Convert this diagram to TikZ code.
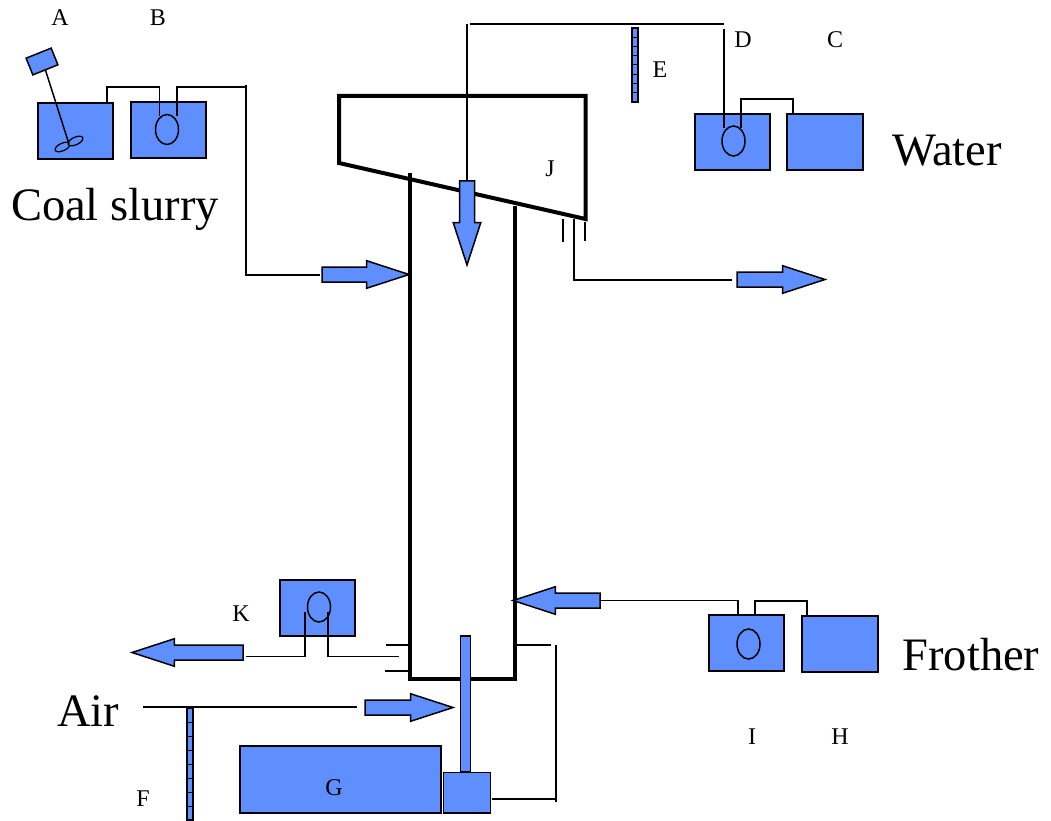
\documentclass[tikz,border=0pt]{standalone}
\usepackage{fontspec}
\setmainfont{Liberation Serif}
\usetikzlibrary{shapes.arrows,shapes.geometric}
\definecolor{fillblue}{HTML}{5F8FFF}
\tikzset{
  tank/.style={draw=black,fill=fillblue,line width=1.9pt,rectangle,inner sep=0pt,outer sep=0pt,minimum width=#1},
  tank/.default=75pt,
  pump/.style={draw=black,fill=fillblue,line width=1.5pt,ellipse,inner sep=0pt,outer sep=0pt,minimum width=23pt,minimum height=30pt},
  pipe/.style={draw=black,line width=1.5pt,line join=miter},
  wall/.style={draw=black,line width=4pt,line join=miter,line cap=rect},
  flow/.style={draw=black,fill=fillblue,line width=1.5pt,single arrow,inner xsep=0pt,inner ysep=6.75pt,outer sep=0pt,
    minimum height=#1,single arrow head extend=6.25pt,single arrow head indent=0pt,
    single arrow tip angle=36,anchor=tail},
  tag/.style={font=\fontsize{24}{26}\selectfont,inner sep=0pt},
  title/.style={font=\fontsize{46.5}{50}\selectfont,inner sep=0pt},
  strip/.style={draw=black,fill=fillblue,line width=1.4pt,rectangle,inner sep=0pt,outer sep=0pt,minimum width=6pt},
  blade/.style={draw=black,fill=fillblue,line width=1.3pt,ellipse,inner sep=0pt,outer sep=0pt,minimum width=16pt,minimum height=7.5pt,rotate=25},
}
\begin{document}
\begin{tikzpicture}[x=1pt,y=-1pt]
\useasboundingbox (0,0) rectangle (1051,821);
% vessel
\coordinate (launderTL) at (339,96);
\coordinate (launderTR) at (585.5,96);
\coordinate (launderBR) at (585.5,219);
\coordinate (launderBL) at (339,163);
\draw[wall] (launderBL) -- (launderTL) -- (launderTR) -- (launderBR) -- cycle;
\coordinate (colTL) at (410,175);
\coordinate (colBL) at (410,678.5);
\coordinate (colBR) at (515,678.5);
\coordinate (colTR) at (515,208);
\draw[wall] (colTL) -- (colBL) -- (colBR) -- (colTR);
% tanks
\node[tank,minimum height=56pt] (tankA) at (75.4,130.6) {};
\node[tank,minimum height=56pt] (tankB) at (168.5,130) {};
\node[tank,minimum height=56pt] (tankD) at (732.4,141.6) {};
\node[tank=76pt,minimum height=56pt] (tankC) at (825.25,142) {};
\node[tank,minimum height=56.5pt] (tankK) at (317.9,607.9) {};
\node[tank,minimum height=56pt] (tankI) at (746.5,643) {};
\node[tank=76pt,minimum height=56pt] (tankH) at (840,644) {};
\node[tank=201pt,minimum height=67pt] (tankG) at (340.5,779.5) {};
\node[pump] (pumpB) at (167,129.5) {};
\node[pump] (pumpD) at (733.5,141) {};
\node[pump] (pumpK) at (319,607) {};
\node[pump] (pumpI) at (748.5,644) {};
% agitator
\node[draw=black,fill=fillblue,line width=1.5pt,rectangle,inner sep=0pt,outer sep=0pt,minimum width=27pt,minimum height=18pt,rotate=22] (motorA) at (42,61.5) {};
\coordinate (hub) at (69,144);
\node[blade] (bladeL) at (62.5,147) {};
\node[blade] (bladeR) at (75.5,141) {};
\draw[pipe] (motorA.south) -- (hub);
% sparger tube and compressor
\node[strip,minimum width=10pt,minimum height=136pt] (tube) at (465.5,704) {};
\node[tank=47pt,minimum height=40.5pt] (box) at (467,792.75) {};
% strips with ticks
\node[strip,minimum height=74pt] (stripE) at (635,65) {};
\foreach \t in {1,...,7} \draw[black,line width=1pt] (631.5,28+9.25*\t) -- (638.5,28+9.25*\t);
\node[strip,minimum height=112pt] (stripF) at (190,764) {};
\foreach \t in {1,...,7} \draw[black,line width=1pt] (186.5,708+14*\t) -- (193.5,708+14*\t);
% flow arrows
\node[flow=87pt] (arrSlurry) at (322,274.5) {};
\node[flow=84pt,rotate=-90] (arrWater) at (467,181) {};
\node[flow=88pt] (arrOver) at (737,279.5) {};
\node[flow=87pt,rotate=180] (arrFroth) at (600,600.5) {};
\node[flow=111pt,rotate=180] (arrTail) at (243,652.5) {};
\node[flow=88pt] (arrAir) at (365,707.5) {};
% pipes
\coordinate (pA) at (107,102);
\draw[pipe] (pA) -- (107,87) -- (159.5,87) -- (159.5,116) coordinate (pB1);
\coordinate (bendS) at (246,87);
\draw[pipe] (177,116) -- (177,87) -- (bendS);
\draw[pipe] (246,85) -- (bendS) -- (246,275) -- (320,275);
\coordinate (wTL) at (467,24);
\draw[pipe] (wTL) -- (arrWater.tail);
\draw[pipe] (470,24) -- (724,24);
\draw[pipe] (724,29) -- (724,128);
\draw[pipe] (741,128) -- (741,99) -- (793,99) -- (793,114);
\draw[pipe] (563,219) -- (563,242);
\draw[pipe] (585,222) -- (585,241);
\draw[pipe] (574,219) -- (574,280) -- (732,280);
\draw[pipe] (305,612) -- (305,656.5) -- (246,656.5);
\draw[pipe] (328,612) -- (328,656.5) -- (399,656.5);
\draw[pipe] (386,645) -- (colBL |- 0,645);
\draw[pipe] (385,671) -- (colBL |- 0,671);
\draw[pipe] (colBR |- 0,645) -- (551,645);
\draw[pipe] (555.9,645) -- (555.9,802);
\draw[pipe] (492,799) -- (557,799);
\draw[pipe] (143,707) -- (357,707);
\draw[pipe] (arrFroth.tail) -- (738,600.5) -- (738,615);
\draw[pipe] (755,615) -- (755,601) -- (807,601) -- (807,616);
% labels
\node[tag] (lA) at (60,18) {A};
\node[tag] (lB) at (158,18) {B};
\node[tag] (lD) at (743,40) {D};
\node[tag] (lC) at (835,40) {C};
\node[tag] (lE) at (660,70) {E};
\node[tag] (lJ) at (550,169) {J};
\node[tag] (lK) at (241,614) {K};
\node[tag] (lF) at (143,799) {F};
\node[tag] (lG) at (334,788) {G};
\node[tag] (lI) at (752,737) {I};
\node[tag] (lH) at (840,737) {H};
\node[title,anchor=base] (tCoal) at (115,220) {Coal slurry};
\node[title,anchor=base] (tWater) at (947,165.5) {Water};
\node[title,anchor=base] (tFroth) at (971,670) {Frother};
\node[title,anchor=base] (tAir) at (88,726) {Air};
\end{tikzpicture}
\end{document}
